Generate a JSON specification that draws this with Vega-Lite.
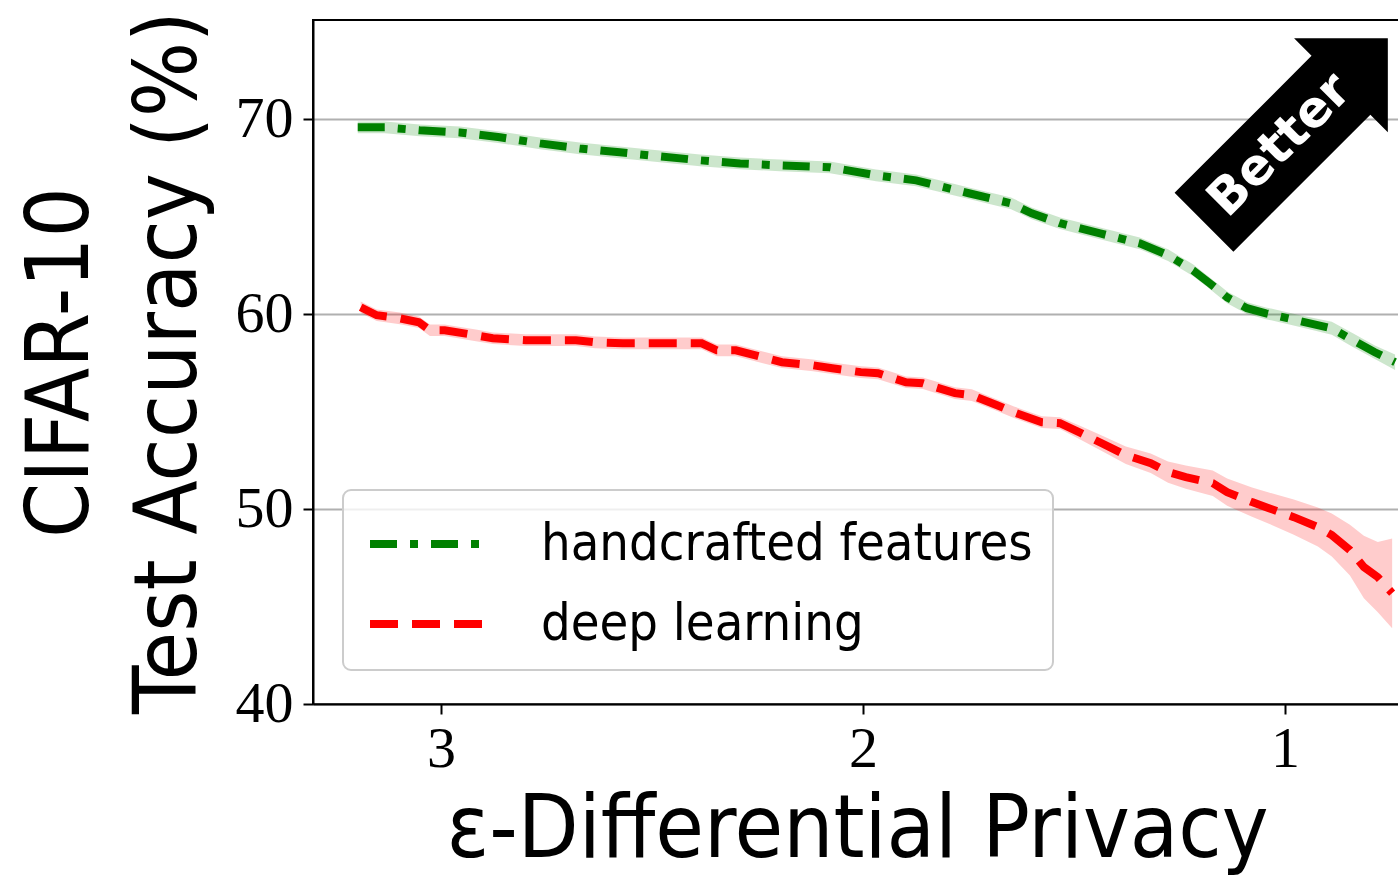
{
  "$schema": "https://vega.github.io/schema/vega-lite/v6.json",
  "width": 1088,
  "height": 684,
  "autosize": "none",
  "padding": {"left": 313, "top": 20, "right": 0, "bottom": 173},
  "background": "white",
  "config": {
    "view": {"stroke": "black", "strokeWidth": 2},
    "axis": {
      "labelFont": "Liberation Serif, DejaVu Serif, serif",
      "labelFontSize": 58,
      "labelColor": "black",
      "tickColor": "black",
      "tickWidth": 2,
      "tickSize": 10,
      "domainColor": "black",
      "domainWidth": 2,
      "titleFont": "DejaVu Sans Condensed, DejaVu Sans, sans-serif",
      "titleFontWeight": "normal",
      "titleFontSize": 88,
      "titleColor": "black"
    },
    "legend": {
      "orient": "none", "legendX": 30, "legendY": 470, "title": null,
      "symbolType": "M-2,0L2,0", "symbolStrokeWidth": 8, "symbolSize": 3600, "symbolOffset": 33, "symbolOpacity": 1,
      "labelFont": "DejaVu Sans Condensed, DejaVu Sans, sans-serif",
      "labelFontSize": 52, "labelColor": "black", "labelOffset": 77, "labelLimit": 800,
      "rowPadding": 20, "padding": 20,
      "fillColor": "rgba(255,255,255,0.8)", "strokeColor": "#cccccc", "strokeWidth": 2, "cornerRadius": 8
    }
  },
  "datasets": {
    "curves": [
      {"s": "handcrafted features", "eps": 3.197, "acc": 69.59, "lo": 69.29, "hi": 69.89},
      {"s": "handcrafted features", "eps": 3.133, "acc": 69.59, "lo": 69.29, "hi": 69.89},
      {"s": "handcrafted features", "eps": 3.050, "acc": 69.44, "lo": 69.14, "hi": 69.74},
      {"s": "handcrafted features", "eps": 2.955, "acc": 69.33, "lo": 69.03, "hi": 69.63},
      {"s": "handcrafted features", "eps": 2.860, "acc": 69.08, "lo": 68.78, "hi": 69.38},
      {"s": "handcrafted features", "eps": 2.765, "acc": 68.77, "lo": 68.47, "hi": 69.07},
      {"s": "handcrafted features", "eps": 2.671, "acc": 68.51, "lo": 68.21, "hi": 68.81},
      {"s": "handcrafted features", "eps": 2.576, "acc": 68.31, "lo": 68.01, "hi": 68.61},
      {"s": "handcrafted features", "eps": 2.481, "acc": 68.10, "lo": 67.80, "hi": 68.40},
      {"s": "handcrafted features", "eps": 2.386, "acc": 67.90, "lo": 67.60, "hi": 68.20},
      {"s": "handcrafted features", "eps": 2.291, "acc": 67.74, "lo": 67.44, "hi": 68.04},
      {"s": "handcrafted features", "eps": 2.197, "acc": 67.64, "lo": 67.34, "hi": 67.94},
      {"s": "handcrafted features", "eps": 2.078, "acc": 67.54, "lo": 67.24, "hi": 67.84},
      {"s": "handcrafted features", "eps": 1.969, "acc": 67.13, "lo": 66.83, "hi": 67.43},
      {"s": "handcrafted features", "eps": 1.874, "acc": 66.87, "lo": 66.57, "hi": 67.17},
      {"s": "handcrafted features", "eps": 1.749, "acc": 66.21, "lo": 65.91, "hi": 66.51},
      {"s": "handcrafted features", "eps": 1.649, "acc": 65.69, "lo": 65.39, "hi": 65.99},
      {"s": "handcrafted features", "eps": 1.600, "acc": 65.18, "lo": 64.88, "hi": 65.48},
      {"s": "handcrafted features", "eps": 1.533, "acc": 64.67, "lo": 64.37, "hi": 64.97},
      {"s": "handcrafted features", "eps": 1.438, "acc": 64.15, "lo": 63.85, "hi": 64.45},
      {"s": "handcrafted features", "eps": 1.344, "acc": 63.64, "lo": 63.34, "hi": 63.94},
      {"s": "handcrafted features", "eps": 1.277, "acc": 63.03, "lo": 62.73, "hi": 63.33},
      {"s": "handcrafted features", "eps": 1.218, "acc": 62.26, "lo": 61.96, "hi": 62.56},
      {"s": "handcrafted features", "eps": 1.178, "acc": 61.59, "lo": 61.29, "hi": 61.89},
      {"s": "handcrafted features", "eps": 1.137, "acc": 60.87, "lo": 60.57, "hi": 61.17},
      {"s": "handcrafted features", "eps": 1.090, "acc": 60.31, "lo": 60.01, "hi": 60.61},
      {"s": "handcrafted features", "eps": 1.045, "acc": 60.05, "lo": 59.75, "hi": 60.35},
      {"s": "handcrafted features", "eps": 0.972, "acc": 59.69, "lo": 59.39, "hi": 59.99},
      {"s": "handcrafted features", "eps": 0.889, "acc": 59.28, "lo": 58.95, "hi": 59.61},
      {"s": "handcrafted features", "eps": 0.839, "acc": 58.67, "lo": 58.32, "hi": 59.02},
      {"s": "handcrafted features", "eps": 0.787, "acc": 58.05, "lo": 57.70, "hi": 58.40},
      {"s": "handcrafted features", "eps": 0.739, "acc": 57.54, "lo": 57.14, "hi": 57.94},
      {"s": "deep learning", "eps": 3.190, "acc": 60.36, "lo": 60.06, "hi": 60.66},
      {"s": "deep learning", "eps": 3.152, "acc": 59.95, "lo": 59.65, "hi": 60.25},
      {"s": "deep learning", "eps": 3.097, "acc": 59.79, "lo": 59.49, "hi": 60.09},
      {"s": "deep learning", "eps": 3.052, "acc": 59.59, "lo": 59.29, "hi": 59.89},
      {"s": "deep learning", "eps": 3.026, "acc": 59.18, "lo": 58.88, "hi": 59.48},
      {"s": "deep learning", "eps": 2.991, "acc": 59.18, "lo": 58.88, "hi": 59.48},
      {"s": "deep learning", "eps": 2.917, "acc": 58.92, "lo": 58.62, "hi": 59.22},
      {"s": "deep learning", "eps": 2.877, "acc": 58.77, "lo": 58.47, "hi": 59.07},
      {"s": "deep learning", "eps": 2.799, "acc": 58.67, "lo": 58.37, "hi": 58.97},
      {"s": "deep learning", "eps": 2.680, "acc": 58.67, "lo": 58.37, "hi": 58.97},
      {"s": "deep learning", "eps": 2.635, "acc": 58.56, "lo": 58.26, "hi": 58.86},
      {"s": "deep learning", "eps": 2.569, "acc": 58.51, "lo": 58.21, "hi": 58.81},
      {"s": "deep learning", "eps": 2.455, "acc": 58.51, "lo": 58.21, "hi": 58.81},
      {"s": "deep learning", "eps": 2.382, "acc": 58.51, "lo": 58.21, "hi": 58.81},
      {"s": "deep learning", "eps": 2.346, "acc": 58.15, "lo": 57.85, "hi": 58.45},
      {"s": "deep learning", "eps": 2.301, "acc": 58.15, "lo": 57.85, "hi": 58.45},
      {"s": "deep learning", "eps": 2.237, "acc": 57.79, "lo": 57.49, "hi": 58.09},
      {"s": "deep learning", "eps": 2.192, "acc": 57.54, "lo": 57.24, "hi": 57.84},
      {"s": "deep learning", "eps": 2.118, "acc": 57.38, "lo": 57.08, "hi": 57.68},
      {"s": "deep learning", "eps": 2.073, "acc": 57.23, "lo": 56.93, "hi": 57.53},
      {"s": "deep learning", "eps": 2.005, "acc": 57.03, "lo": 56.73, "hi": 57.33},
      {"s": "deep learning", "eps": 1.964, "acc": 56.97, "lo": 56.67, "hi": 57.27},
      {"s": "deep learning", "eps": 1.898, "acc": 56.51, "lo": 56.21, "hi": 56.81},
      {"s": "deep learning", "eps": 1.858, "acc": 56.46, "lo": 56.16, "hi": 56.76},
      {"s": "deep learning", "eps": 1.782, "acc": 55.95, "lo": 55.65, "hi": 56.25},
      {"s": "deep learning", "eps": 1.742, "acc": 55.85, "lo": 55.55, "hi": 56.15},
      {"s": "deep learning", "eps": 1.682, "acc": 55.33, "lo": 55.03, "hi": 55.63},
      {"s": "deep learning", "eps": 1.642, "acc": 54.97, "lo": 54.67, "hi": 55.27},
      {"s": "deep learning", "eps": 1.576, "acc": 54.46, "lo": 54.16, "hi": 54.76},
      {"s": "deep learning", "eps": 1.533, "acc": 54.41, "lo": 54.11, "hi": 54.71},
      {"s": "deep learning", "eps": 1.483, "acc": 53.90, "lo": 53.55, "hi": 54.25},
      {"s": "deep learning", "eps": 1.434, "acc": 53.38, "lo": 52.98, "hi": 53.78},
      {"s": "deep learning", "eps": 1.377, "acc": 52.77, "lo": 52.32, "hi": 53.22},
      {"s": "deep learning", "eps": 1.318, "acc": 52.36, "lo": 51.86, "hi": 52.86},
      {"s": "deep learning", "eps": 1.277, "acc": 51.90, "lo": 51.35, "hi": 52.45},
      {"s": "deep learning", "eps": 1.235, "acc": 51.64, "lo": 51.04, "hi": 52.24},
      {"s": "deep learning", "eps": 1.171, "acc": 51.33, "lo": 50.68, "hi": 51.98},
      {"s": "deep learning", "eps": 1.137, "acc": 50.87, "lo": 50.17, "hi": 51.57},
      {"s": "deep learning", "eps": 1.078, "acc": 50.36, "lo": 49.61, "hi": 51.11},
      {"s": "deep learning", "eps": 1.038, "acc": 50.05, "lo": 49.25, "hi": 50.85},
      {"s": "deep learning", "eps": 0.979, "acc": 49.59, "lo": 48.69, "hi": 50.49},
      {"s": "deep learning", "eps": 0.922, "acc": 49.08, "lo": 48.08, "hi": 50.08},
      {"s": "deep learning", "eps": 0.889, "acc": 48.67, "lo": 47.57, "hi": 49.77},
      {"s": "deep learning", "eps": 0.846, "acc": 47.90, "lo": 46.60, "hi": 49.20},
      {"s": "deep learning", "eps": 0.813, "acc": 47.03, "lo": 45.43, "hi": 48.63},
      {"s": "deep learning", "eps": 0.780, "acc": 46.51, "lo": 44.71, "hi": 48.31},
      {"s": "deep learning", "eps": 0.746, "acc": 45.69, "lo": 43.89, "hi": 48.49}
    ],
    "badge": [
      {"eps": 0.974, "acc": 69.44, "label": "Better"}
    ],
    "badgeText": [
      {"eps": 1.012, "acc": 68.67, "label": "Better"}
    ]
  },
  "layer": [
    {
      "data": {"name": "curves"},
      "mark": {"type": "area", "fillOpacity": 0.2, "clip": true},
      "encoding": {
        "x": {
          "field": "eps", "type": "quantitative",
          "scale": {"domain": [0.725, 3.303], "reverse": true, "nice": false, "zero": false},
          "axis": {"values": [1, 2, 3], "grid": false, "labelPadding": 6, "title": "ε-Differential Privacy", "titlePadding": 8, "format": "d"}
        },
        "y": {
          "field": "lo", "type": "quantitative",
          "scale": {"domain": [40, 75.1], "nice": false, "zero": false},
          "axis": {"values": [40, 50, 60, 70], "grid": true, "gridColor": "#b0b0b0", "gridWidth": 2, "labelPadding": 10, "title": ["CIFAR-10", "Test Accuracy (%)"], "titleLineHeight": 108, "titlePadding": 22, "format": "d"}
        },
        "y2": {"field": "hi"},
        "fill": {
          "field": "s", "type": "nominal",
          "scale": {"domain": ["handcrafted features", "deep learning"], "range": ["#008000", "#ff0000"]}
        }
      }
    },
    {
      "data": {"name": "curves"},
      "mark": {"type": "line", "strokeWidth": 8, "clip": true},
      "encoding": {
        "x": {"field": "eps", "type": "quantitative"},
        "y": {"field": "acc", "type": "quantitative"},
        "color": {
          "field": "s", "type": "nominal",
          "scale": {"domain": ["handcrafted features", "deep learning"], "range": ["#008000", "#ff0000"]}
        },
        "strokeDash": {
          "field": "s", "type": "nominal",
          "scale": {"domain": ["handcrafted features", "deep learning"], "range": [[27, 13, 8, 13], [28, 14]]}
        }
      }
    },
    {
      "data": {"name": "badge"},
      "mark": {
        "type": "point", "filled": true, "color": "black", "opacity": 1, "size": 67600, "angle": -45,
        "shape": "M-1,-0.32L0.49,-0.32L0.49,-0.51L1,0L0.49,0.51L0.49,0.32L-1,0.32Z"
      },
      "encoding": {
        "x": {"field": "eps", "type": "quantitative"},
        "y": {"field": "acc", "type": "quantitative"}
      }
    },
    {
      "data": {"name": "badgeText"},
      "mark": {
        "type": "text", "color": "white", "font": "DejaVu Sans", "fontWeight": "bold", "fontSize": 50,
        "angle": -45, "align": "center", "baseline": "middle"
      },
      "encoding": {
        "x": {"field": "eps", "type": "quantitative"},
        "y": {"field": "acc", "type": "quantitative"},
        "text": {"field": "label"}
      }
    }
  ]
}
